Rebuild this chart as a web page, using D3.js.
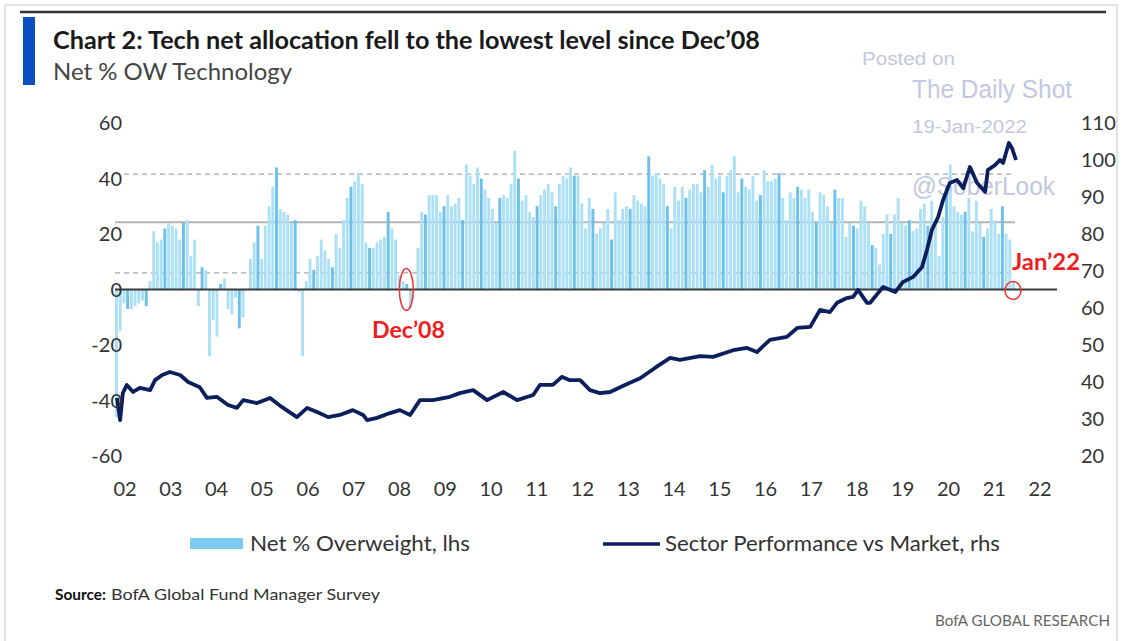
<!DOCTYPE html>
<html>
<head>
<meta charset="utf-8">
<script src="https://cdnjs.cloudflare.com/ajax/libs/d3/7.8.5/d3.min.js"></script>
<style>
  body { margin: 0; background: #fff; }
</style>
</head>
<body>
<div id="chart"></div>
<script>
// Net % overweight technology, monthly bars (lhs)
var netOW = [
  -46, -15, -5, -7, -7, -6, -5, -4, -6, 3, 21, 17, 18, 22, 24, 23, 22, 18, 24, 25,
  12, 18, -6, 8, 7, -24, -11, -17, 2, 4, -7, -9, -3, -14, -10, 0, 11, 17, 23, 11,
  23, 30, 37, 44, 29, 28, 27, 24, 25, -1, -24,
  3, 11, 7, 12, 18, 14, 11, 8, 20, 15, 25, 33, 37, 39, 42, 38, 17, 15, 15, 17,
  18, 19, 28, 22, 18, 5, 3, 2, -7, 0, 15, 28, 27, 34, 34, 34, 28, 30, 34, 30,
  31, 33, 25, 45, 41, 38, 44, 40, 36, 33, 29, 24,
  33, 34, 33, 38, 50, 40, 32, 34, 28, 26, 30, 34, 36, 38, 35, 30, 38, 41, 40, 44,
  41, 41, 31, 22, 33, 29, 20, 22, 24, 29, 18, 35, 25, 29, 30, 29, 34, 32, 31, 30,
  48, 41, 42, 40, 38, 30, 22, 37, 32, 37, 33,
  36, 38, 38, 35, 43, 37, 45, 40, 41, 35, 41, 43, 48, 35, 40, 37, 36, 41, 32, 34,
  43, 39, 39, 40, 42, 33, 25, 35, 33, 37, 36, 33, 36, 28, 24, 35, 34, 30, 24, 36,
  33, 33, 19, 24, 23, 22, 32, 30, 24, 16, 15,
  9, 20, 27, 20, 27, 33, 24, 23, 25, 21, 22, 29, 31, 23, 32, 24, 12, 26, 37, 45,
  30, 28, 27, 28, 33, 21, 32, 24, 19, 22, 29, 25, 20, 30, 20, 18, 3
];

// Sector performance vs market (rhs): [decimal year, value]
var perfYear = [2002.0, 2002.07, 2002.13, 2002.22, 2002.36, 2002.51, 2002.74, 2002.85, 2003.01, 2003.18,
  2003.41, 2003.59, 2003.85, 2004.01, 2004.23, 2004.48, 2004.68, 2004.82, 2005.13, 2005.42,
  2005.69, 2006.02, 2006.25, 2006.47, 2006.72, 2006.98, 2007.27, 2007.5, 2007.59, 2007.81,
  2008.1, 2008.32, 2008.55, 2008.77, 2009.06, 2009.44, 2009.66, 2009.96, 2010.27, 2010.63,
  2010.94, 2011.3, 2011.45, 2011.74, 2011.94, 2012.12, 2012.35, 2012.57, 2012.79, 2013.02,
  2013.35, 2013.69, 2014.02, 2014.36, 2014.58, 2015.03, 2015.32, 2015.77, 2016.08, 2016.3,
  2016.59, 2016.97, 2017.2, 2017.49, 2017.71, 2017.93, 2018.09, 2018.31, 2018.45, 2018.56,
  2018.76, 2018.83, 2019.12, 2019.39, 2019.56, 2019.79, 2019.99, 2020.1, 2020.21, 2020.35,
  2020.46, 2020.61, 2020.77, 2020.91, 2021.06, 2021.22, 2021.4, 2021.46, 2021.62, 2021.73,
  2021.8, 2021.93, 2022.0, 2022.09];
var perfValue = [35.7, 29.7, 37, 39.2, 37.3, 38.4, 37.8, 40.5, 41.9, 42.7,
  41.9, 40, 38.6, 35.7, 36, 33.8, 33, 35.1, 34.3, 35.7,
  33.2, 30.5, 33, 31.9, 30.5, 31.1, 32.4, 31.1, 29.7, 30.3,
  31.6, 32.4, 31.1, 35.1, 35.1, 36, 37, 37.8, 35.1, 37.3,
  35.1, 36.5, 39.2, 39.2, 41.4, 40.5, 40.5, 37.8, 37, 37.3,
  39.2, 41, 43.8, 46.5, 46, 47, 46.8, 48.6, 49.2, 48.1,
  51.4, 52.2, 54.6, 54.9, 59.5, 58.9, 61.4, 62.7, 63, 64.9,
  61.4, 61.4, 65.7, 64.3, 67, 68.4, 71.1, 75.7, 81.1, 84.6,
  89.2, 93.8, 94.6, 92.4, 98.1, 93.8, 91.4, 97.3, 98.6, 100,
  99.2, 104.6, 103.2, 100];

var leftTicks = [60, 40, 20, 0, -20, -40, -60];
var rightTicks = [110, 100, 90, 80, 70, 60, 50, 40, 30, 20];
var yearLabels = ["02","03","04","05","06","07","08","09","10","11","12","13","14","15","16","17","18","19","20","21","22"];

// long-term average and +/- 1 stdev lines
var avgLine = 24.2, stdUpper = 41.6, stdLower = 6;

var W = 1122, H = 641;
var font = "Lato, 'Open Sans', sans-serif";
var svg = d3.select("#chart").append("svg")
    .attr("width", W)
    .attr("height", H)
    .style("font-family", font);

// frame
svg.append("rect").attr("x", 5).attr("y", 5).attr("width", W - 10).attr("height", H)
    .attr("fill", "none").attr("stroke", "#c8c8c8").attr("stroke-width", 1);
svg.append("line").attr("x1", 20).attr("x2", 1106).attr("y1", 12).attr("y2", 12)
    .attr("stroke", "#333").attr("stroke-width", 2.5);
svg.append("rect").attr("x", 23).attr("y", 17).attr("width", 12).attr("height", 68)
    .attr("fill", "#0a4fc4");

// titles
svg.append("text").attr("x", 53).attr("y", 49)
    .attr("font-size", 25).attr("font-weight", "bold").attr("fill", "#1a1a1a")
    .attr("textLength", 707).attr("lengthAdjust", "spacingAndGlyphs")
    .text("Chart 2: Tech net allocation fell to the lowest level since Dec\u201908");
svg.append("text").attr("x", 53).attr("y", 80)
    .attr("font-size", 23).attr("fill", "#444")
    .attr("textLength", 239).attr("lengthAdjust", "spacingAndGlyphs")
    .text("Net % OW Technology");

// scales
var yL = d3.scaleLinear().domain([-60, 60]).range([456, 123]);
var yR = d3.scaleLinear().domain([20, 110]).range([456, 123]);
var xBar = d3.scaleBand().domain(d3.range(netOW.length)).range([115, 1015]).paddingInner(0.22);
var xYear = d3.scaleLinear().domain([2002, 2022]).range([117, 1012]);
var xLab = d3.scalePoint().domain(yearLabels).range([125, 1040]);

// watermark
var wm = svg.append("g").attr("fill", "#c3c7e0").style("font-family", "'Liberation Sans', Arial, sans-serif");
wm.append("text").attr("x", 862).attr("y", 65).attr("font-size", 18)
    .attr("textLength", 93).attr("lengthAdjust", "spacingAndGlyphs").text("Posted on");
wm.append("text").attr("x", 912).attr("y", 98).attr("font-size", 25)
    .attr("textLength", 160).attr("lengthAdjust", "spacingAndGlyphs").text("The Daily Shot");
wm.append("text").attr("x", 912).attr("y", 133).attr("font-size", 18)
    .attr("textLength", 115).attr("lengthAdjust", "spacingAndGlyphs").text("19-Jan-2022");
wm.append("text").attr("x", 912).attr("y", 195).attr("font-size", 25)
    .attr("textLength", 143).attr("lengthAdjust", "spacingAndGlyphs").text("@SoberLook");

// reference lines
svg.append("line").attr("x1", 115).attr("x2", 1015).attr("y1", yL(stdUpper)).attr("y2", yL(stdUpper))
    .attr("stroke", "#a8a8a8").attr("stroke-width", 1.2).attr("stroke-dasharray", "5,4");
svg.append("line").attr("x1", 115).attr("x2", 1015).attr("y1", yL(avgLine)).attr("y2", yL(avgLine))
    .attr("stroke", "#b4b4b4").attr("stroke-width", 2);
svg.append("line").attr("x1", 115).attr("x2", 1015).attr("y1", yL(stdLower)).attr("y2", yL(stdLower))
    .attr("stroke", "#a8a8a8").attr("stroke-width", 1.2).attr("stroke-dasharray", "5,4");

// bars
svg.append("g").selectAll("rect")
    .data(netOW)
  .enter().append("rect")
    .attr("x", function(d, i) { return xBar(i); })
    .attr("width", xBar.bandwidth())
    .attr("y", function(d) { return Math.min(yL(d), yL(0)); })
    .attr("height", function(d) { return Math.abs(yL(d) - yL(0)); })
    .attr("fill", function(d, i) { return i % 5 == 3 ? "#6cc0ea" : "#ace0f6"; });

// zero line
svg.append("line").attr("x1", 115).attr("x2", 1057).attr("y1", yL(0)).attr("y2", yL(0))
    .attr("stroke", "#3a3a3a").attr("stroke-width", 2);

// performance line
var perf = perfYear.map(function(t, i) { return {t: t, v: perfValue[i]}; });
var valueline = d3.line()
    .x(function(d) { return xYear(d.t); })
    .y(function(d) { return yR(d.v); });
svg.append("path")
    .datum(perf)
    .attr("d", valueline)
    .attr("fill", "none")
    .attr("stroke", "#0b1f5c")
    .attr("stroke-width", 3.8)
    .attr("stroke-linejoin", "round");

// axes labels
svg.append("g").selectAll("text").data(leftTicks).enter().append("text")
    .attr("x", 122).attr("y", function(d) { return yL(d); }).attr("dy", "0.35em")
    .attr("text-anchor", "end").attr("font-size", 20).attr("fill", "#333")
    .text(function(d) { return d; });
svg.append("g").selectAll("text").data(rightTicks).enter().append("text")
    .attr("x", 1081).attr("y", function(d) { return yR(d); }).attr("dy", "0.35em")
    .attr("text-anchor", "start").attr("font-size", 20).attr("fill", "#333")
    .text(function(d) { return d; });
svg.append("g").selectAll("text").data(yearLabels).enter().append("text")
    .attr("x", function(d) { return xLab(d); }).attr("y", 496)
    .attr("text-anchor", "middle").attr("font-size", 20).attr("fill", "#333")
    .text(function(d) { return d; });

// annotations
svg.append("ellipse").attr("cx", xBar(78) + 1).attr("cy", yL(0)).attr("rx", 7).attr("ry", 21)
    .attr("fill", "none").attr("stroke", "#f03030").attr("stroke-width", 1.5);
svg.append("text").attr("x", 372).attr("y", 338).attr("font-size", 22).attr("font-weight", "bold")
    .attr("fill", "#ee1c1c").attr("textLength", 73).attr("lengthAdjust", "spacingAndGlyphs").text("Dec\u201908");
svg.append("ellipse").attr("cx", 1013).attr("cy", yL(0) + 1).attr("rx", 8).attr("ry", 9)
    .attr("fill", "none").attr("stroke", "#f03030").attr("stroke-width", 1.5);
svg.append("text").attr("x", 1012).attr("y", 270).attr("font-size", 22).attr("font-weight", "bold")
    .attr("fill", "#ee1c1c").attr("textLength", 68).attr("lengthAdjust", "spacingAndGlyphs").text("Jan\u201922");

// legend
svg.append("rect").attr("x", 190).attr("y", 538).attr("width", 53).attr("height", 11).attr("fill", "#7fcbee");
svg.append("text").attr("x", 250).attr("y", 551).attr("font-size", 21).attr("fill", "#333")
    .attr("textLength", 220).attr("lengthAdjust", "spacingAndGlyphs").text("Net % Overweight, lhs");
svg.append("line").attr("x1", 603).attr("x2", 660).attr("y1", 544).attr("y2", 544)
    .attr("stroke", "#0b1f5c").attr("stroke-width", 3.5);
svg.append("text").attr("x", 665).attr("y", 551).attr("font-size", 21).attr("fill", "#333")
    .attr("textLength", 335).attr("lengthAdjust", "spacingAndGlyphs").text("Sector Performance vs Market, rhs");

// source
svg.append("text").attr("x", 55).attr("y", 600).attr("font-size", 16).attr("font-weight", "bold").attr("fill", "#111")
    .attr("textLength", 51).attr("lengthAdjust", "spacingAndGlyphs").text("Source:");
svg.append("text").attr("x", 111).attr("y", 600).attr("font-size", 16).attr("fill", "#333")
    .attr("textLength", 269).attr("lengthAdjust", "spacingAndGlyphs").text("BofA Global Fund Manager Survey");
svg.append("text").attr("x", 935).attr("y", 626).attr("font-size", 16).attr("fill", "#666")
    .attr("textLength", 175).attr("lengthAdjust", "spacingAndGlyphs").text("BofA GLOBAL RESEARCH");
</script>
</body>
</html>
